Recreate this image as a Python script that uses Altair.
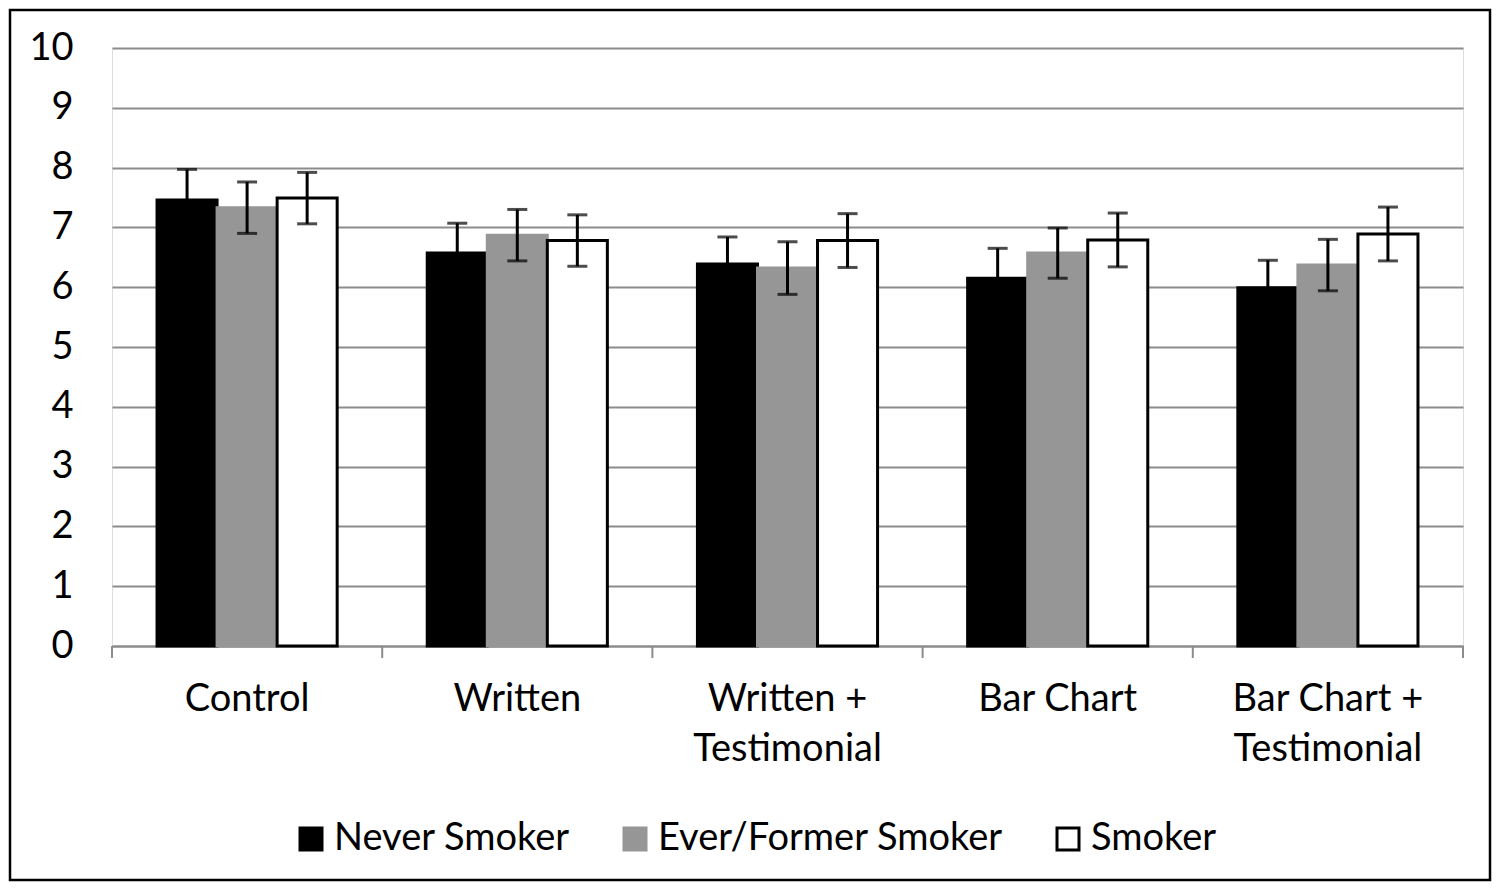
import altair as alt
import pandas as pd

categories = ["Control", "Written", "Written + Testimonial", "Bar Chart", "Bar Chart + Testimonial"]
groups = ["Never Smoker", "Ever/Former Smoker", "Smoker"]
never = [7.46, 6.57, 6.39, 6.15, 5.99]
never_err = [0.51, 0.50, 0.45, 0.50, 0.46]
ever = [7.33, 6.87, 6.32, 6.57, 6.37]
ever_err = [0.43, 0.43, 0.44, 0.42, 0.43]
smoker = [7.49, 6.78, 6.78, 6.79, 6.89]
smoker_err = [0.43, 0.43, 0.45, 0.45, 0.45]
y_ticks = [0, 1, 2, 3, 4, 5, 6, 7, 8, 9, 10]

rows = []
for g, vals, errs in [(groups[0], never, never_err), (groups[1], ever, ever_err), (groups[2], smoker, smoker_err)]:
    for c, v, e in zip(categories, vals, errs):
        rows.append({"cat": c, "group": g, "value": v, "lo": v - e, "hi": v + e})
df = pd.DataFrame(rows)

FONT = "Lato"
FS = 38
GRID = "#8c8c8c"
W, H = 1351, 598

x_enc = alt.X("cat:N", sort=categories, title=None,
              scale=alt.Scale(paddingInner=0, paddingOuter=0),
              axis=alt.Axis(labelAngle=0, ticks=False, domainColor=GRID, domainWidth=2,
                            labelFont=FONT, labelFontSize=FS, labelColor="black",
                            labelPadding=34, labelLineHeight=50, labelLimit=600,
                            labelExpr="split(replace(datum.label, ' + ', ' +|'), '|')"))
xo = alt.XOffset("group:N", sort=groups, scale=alt.Scale(paddingInner=0, paddingOuter=0.75))

bars = alt.Chart(df).mark_bar(strokeWidth=3).encode(
    x=x_enc,
    xOffset=xo,
    y=alt.Y("value:Q", title=None, scale=alt.Scale(domain=[0, 10]),
            axis=alt.Axis(values=y_ticks, format="d", ticks=False, domain=False, gridColor=GRID,
                          gridWidth=2, gridOpacity=1, labelFont=FONT, labelFontSize=FS,
                          labelColor="black", labelPadding=39)),
    fill=alt.Fill("group:N", sort=groups, title=None,
                  scale=alt.Scale(domain=groups, range=["#000000", "#969696", "#ffffff"]),
                  legend=alt.Legend(orient="none", legendX=180, legendY=772, direction="horizontal",
                                    columns=3, columnPadding=46, symbolType="square", symbolSize=484,
                                    symbolStrokeWidth=3, labelFont=FONT, labelFontSize=FS,
                                    labelColor="black", labelOffset=4, labelLimit=600)),
    stroke=alt.Stroke("group:N", sort=groups, title=None,
                      scale=alt.Scale(domain=groups, range=["#000000", "#969696", "#000000"])),
)

err_rule = alt.Chart(df).mark_rule(color="black", strokeWidth=3).encode(
    x=alt.X("cat:N", sort=categories), xOffset=xo, y="lo:Q", y2="hi:Q")
cap_lo = alt.Chart(df).mark_tick(color="black", thickness=3, size=20).encode(
    x=alt.X("cat:N", sort=categories), xOffset=xo, y="lo:Q")
cap_hi = alt.Chart(df).mark_tick(color="black", thickness=3, size=20).encode(
    x=alt.X("cat:N", sort=categories), xOffset=xo, y="hi:Q")

main = alt.layer(bars, err_rule, cap_lo, cap_hi)

bounds = pd.DataFrame({"b": [0, 1, 2, 3, 4, 5]})
ticks = alt.Chart(bounds).mark_rule(color=GRID, strokeWidth=2).encode(
    x=alt.X("b:Q", scale=alt.Scale(domain=[0, 5], nice=False, zero=False), axis=None),
    y=alt.value(H), y2=alt.value(H + 12))

frame = alt.Chart(pd.DataFrame({"a": [0]})).mark_rect(fill="transparent", stroke="black", strokeWidth=2.5).encode(
    x=alt.value(-102), x2=alt.value(1378), y=alt.value(-38), y2=alt.value(832))

chart = alt.layer(main, ticks, frame).resolve_scale(x="independent").properties(
    width=W, height=H,
    autosize=alt.AutoSizeParams(type="none"),
    padding={"left": 104, "top": 40, "right": 29, "bottom": 236},
).configure_view(stroke=None).configure(background="white")

chart.save("out.html", embed_options={"renderer": "svg", "actions": False})
